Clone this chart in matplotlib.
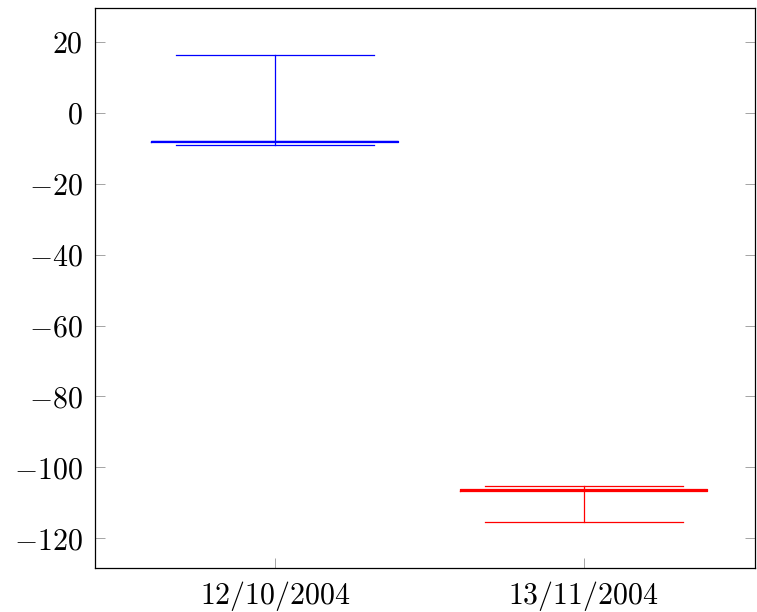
import matplotlib
matplotlib.use("Agg")
import matplotlib.pyplot as plt

plt.rcParams['mathtext.fontset'] = 'cm'
plt.rcParams['font.family'] = 'serif'
plt.rcParams['font.serif'] = ['DejaVu Serif']

# box plot summaries
labels = ["12/10/2004", "13/11/2004"]
colors = ["blue", "red"]
whislo = [-9.0, -115.5]
q1 = [-8.2, -106.8]
med = [-8.0, -106.5]
q3 = [-7.8, -106.2]
whishi = [16.4, -105.2]
yticks = [20, 0, -20, -40, -60, -80, -100, -120]

fig = plt.figure(figsize=(7.57, 6.12), dpi=100)
ax = fig.add_axes([0.1255, 0.072, 0.872, 0.915])

for i in range(len(labels)):
    stats = [dict(whislo=whislo[i], q1=q1[i], med=med[i], q3=q3[i],
                  whishi=whishi[i], fliers=[])]
    c = colors[i]
    ax.bxp(stats, positions=[i + 1], widths=0.8, capwidths=0.64,
           showfliers=False,
           boxprops=dict(color=c, lw=0.9),
           medianprops=dict(color=c, lw=0.9),
           whiskerprops=dict(color=c, lw=0.9),
           capprops=dict(color=c, lw=0.9))

ax.set_xlim(0.418, 2.555)
ax.set_ylim(-128.4, 29.6)
ax.set_xticks([1, 2])
ax.set_xticklabels(["$" + l + "$" for l in labels], fontsize=21.5)
ax.set_yticks(yticks)
ax.set_yticklabels(["$%d$" % t for t in yticks], fontsize=21.5)
ax.tick_params(direction='in', length=7, width=0.5, color='0.5',
               right=True, top=False, pad=9)
ax.tick_params(axis='x', pad=8)
for s in ax.spines.values():
    s.set_linewidth(0.9)

fig.savefig("out.png", dpi=100)
